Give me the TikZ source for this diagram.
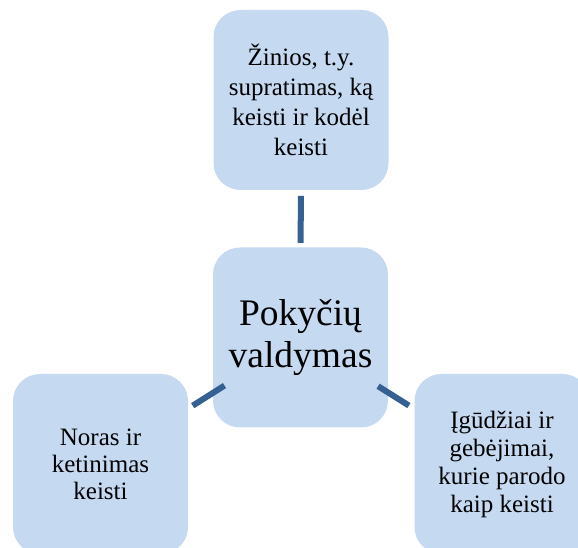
\documentclass[tikz,border=0pt]{standalone}
\usepackage{fontspec}
\setmainfont{Liberation Serif}
\usetikzlibrary{calc}
\definecolor{boxfill}{RGB}{197,217,241}
\definecolor{linkcol}{RGB}{54,96,146}
\tikzset{
  card/.style={fill=boxfill, draw=none, rounded corners=27pt, minimum width=175pt, minimum height=180pt, align=center, inner sep=0pt},
  smalltext/.style={font=\fontsize{25}{30}\selectfont},
  link/.style={draw=linkcol, line width=6pt}
}
\begin{document}
\begin{tikzpicture}[x=1pt,y=1pt]
\useasboundingbox (0,0) rectangle (578,548);
\clip (0,0) rectangle (578,548);
\node[card, smalltext] (top) at (301,448) {Žinios, t.y.\\supratimas, ką\\keisti ir kodėl\\keisti};
\node[card, font=\fontsize{37.5}{42}\selectfont] (mid) at (300.5,210.5) {Pokyčių\\valdymas};
\node[card, font=\fontsize{25}{27}\selectfont] (left) at (100.5,84) {Noras ir\\ketinimas\\keisti};
\node[card, font=\fontsize{25}{28}\selectfont] (right) at (502,84) {Įgūdžiai ir\\gebėjimai,\\kurie parodo\\kaip keisti};
\draw[link] ($(mid.center)!0.398!(top.center)$) -- ($(mid.center)!0.596!(top.center)$);
\draw[link] ($(mid.center)!0.38!(left.center)$) -- ($(mid.center)!0.539!(left.center)$);
\draw[link] ($(mid.center)!0.385!(right.center)$) -- ($(mid.center)!0.538!(right.center)$);
\end{tikzpicture}
\end{document}
